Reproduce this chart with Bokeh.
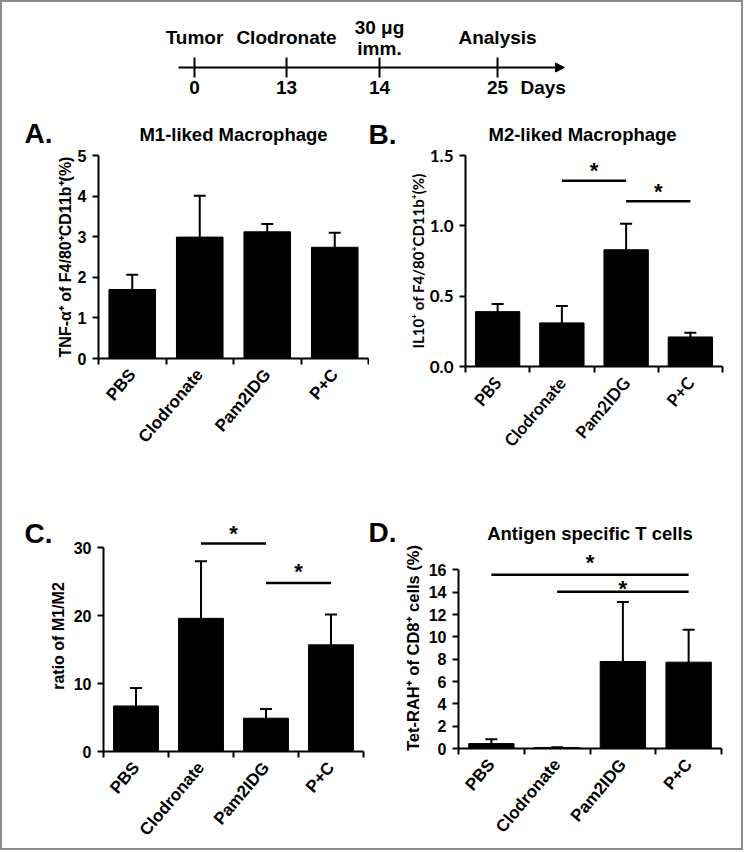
import math
from bokeh.plotting import figure
from bokeh.models import (Range1d, FixedTicker, Whisker, TeeHead, ColumnDataSource,
                          Label, Arrow, NormalHead, NumeralTickFormatter)
from bokeh.layouts import column, row
from bokeh.core.properties import value
from bokeh.embed import file_html
from bokeh.resources import INLINE

# ---------------- data ----------------
groups = ["PBS", "Clodronate", "Pam2IDG", "P+C"]

m1_mean = [1.70, 2.99, 3.12, 2.74]
m1_err = [0.36, 1.02, 0.19, 0.36]

m2_mean = [0.39, 0.31, 0.83, 0.21]
m2_err = [0.055, 0.12, 0.185, 0.03]

ratio_mean = [6.7, 19.6, 4.9, 15.7]
ratio_err = [2.65, 8.4, 1.35, 4.45]

tet_mean = [0.44, 0.08, 7.79, 7.73]
tet_err = [0.38, 0.04, 5.34, 2.9]

# significance comparisons: (from group, to group, bar height)
m2_sig = [("Clodronate", "Pam2IDG", 1.32), ("Pam2IDG", "P+C", 1.175)]
ratio_sig = [("Clodronate", "Pam2IDG", 30.6), ("Pam2IDG", "P+C", 24.8)]
tet_sig = [("PBS", "P+C", 15.55), ("Clodronate", "P+C", 14.03)]

m1_ticks = [0, 1, 2, 3, 4, 5]
m2_ticks = [0, 0.5, 1.0, 1.5]
ratio_ticks = [0, 10, 20, 30]
tet_ticks = [0, 2, 4, 6, 8, 10, 12, 14, 16]

tl_days = ["0", "13", "14", "25"]
tl_events = ["Tumor", "Clodronate", "30 \u03bcg\nimm.", "Analysis"]

# ---------------- layout / style constants ----------------
ARIAL = "Liberation Sans"
CALIBRI = "Lato"
TL_SLOTS = [0.0, 0.995, 2.0, 3.276]   # schematic (non-linear) timeline positions
TL_PX = 92.5                           # pixels per slot
TL_X0 = 192                            # fig-x of slot 0
CAT_ANGLE = 0.87                       # rotation of category labels (rad)


def style_text(prefix, model, font, size):
    setattr(model, prefix + "_font", font)
    setattr(model, prefix + "_font_style", "bold")
    setattr(model, prefix + "_font_size", size)


def panel(width, height, borders, y_range, ticks, means, errs, ylabel, title,
          letter, letter_xy, sig=None, star_dy=None, font=ARIAL, fmt=None,
          title_offset=None, title_standoff=10, tick_size="16px", label_size="16px",
          cat_size="17px", label_standoff=4):
    left, right, top, bottom = borders
    n = len(groups)
    p = figure(width=width, height=height, x_range=Range1d(0, n),
               y_range=Range1d(*y_range), output_backend="svg",
               toolbar_location=None, min_border_left=left,
               min_border_right=right, min_border_top=top,
               min_border_bottom=bottom, frame_align=False)
    p.grid.visible = False
    p.outline_line_color = None

    centers = [i + 0.5 for i in range(n)]
    src = ColumnDataSource(dict(x=centers, mean=means,
                                upper=[m + e for m, e in zip(means, errs)]))
    p.vbar(x="x", top="mean", bottom=0, width=0.69, source=src, fill_color="black",
           line_color="black")
    wh = Whisker(source=src, base="x", lower="mean", upper="upper",
                 dimension="height", line_width=2, line_color="black",
                 lower_head=None,
                 upper_head=TeeHead(size=12, line_width=2, line_color="black"))
    p.add_layout(wh)

    if sig:
        idx = {g: i + 0.5 for i, g in enumerate(groups)}
        x0 = [idx[a] for a, b, h in sig]
        x1 = [idx[b] for a, b, h in sig]
        hs = [h for a, b, h in sig]
        p.segment(x0=x0, y0=hs, x1=x1, y1=hs, line_width=2.5, line_color="black")
        p.text(x=[(a + b) / 2 for a, b in zip(x0, x1)], y=hs, text=["*"] * len(hs),
               y_offset=star_dy, text_align="center", text_baseline="alphabetic",
               text_font=value(ARIAL), text_font_style="bold",
               text_font_size="22px", text_color="black")

    # x axis: boundary ticks as minor ticks, labels at category centres
    xa = p.xaxis[0]
    xa.ticker = FixedTicker(ticks=centers, minor_ticks=list(range(n + 1)))
    xa.major_label_overrides = {c: g for c, g in zip(centers, groups)}
    xa.major_tick_line_color = None
    xa.major_tick_out = 6
    xa.major_tick_in = 0
    xa.minor_tick_out = 6
    xa.minor_tick_in = 0
    xa.minor_tick_line_width = 2
    xa.minor_tick_line_color = "black"
    xa.axis_line_width = 2
    xa.axis_line_color = "black"
    xa.major_label_orientation = CAT_ANGLE
    xa.major_label_standoff = 7
    style_text("major_label_text", xa, font, cat_size)
    xa.major_label_text_color = "black"

    ya = p.yaxis[0]
    ya.ticker = FixedTicker(ticks=ticks, minor_ticks=[])
    ya.bounds = (0, ticks[-1])
    ya.minor_tick_line_color = None
    ya.major_tick_out = 6
    ya.major_tick_in = 0
    ya.major_tick_line_width = 2
    ya.major_tick_line_color = "black"
    ya.axis_line_width = 2
    ya.axis_line_color = "black"
    ya.major_label_standoff = 6
    style_text("major_label_text", ya, font, tick_size)
    ya.major_label_text_color = "black"
    if fmt is not None:
        ya.formatter = fmt
    ya.axis_label = ylabel
    style_text("axis_label_text", ya, font, label_size)
    ya.axis_label_text_color = "black"
    ya.axis_label_standoff = label_standoff

    if title:
        p.title.text = title
        if title_offset is None:
            p.title.align = "center"
        else:
            p.title.align = "left"
            p.title.offset = title_offset
        p.title.standoff = title_standoff
        style_text("text", p.title, ARIAL, "18.5px")
        p.title.text_color = "black"

    lx, ly = letter_xy
    p.add_layout(Label(x=lx, y=ly, text=letter,
                       text_font=ARIAL, text_font_style="bold", text_font_size="28px",
                       text_baseline="middle", text_align="left",
                       text_color="black"), "left")
    return p


# ---------------- timeline ----------------
TW, TH = 739, 108
tl = figure(width=TW, height=TH, x_range=Range1d(-TL_X0 / TL_PX, (TW - TL_X0) / TL_PX),
            y_range=Range1d(TH, 0), x_axis_type=None, y_axis_type=None,
            toolbar_location=None, output_backend="svg", min_border=0,
            frame_align=False)
tl.outline_line_color = None
tl.add_layout(Arrow(x_start=-0.173, y_start=65, x_end=4.0, y_end=65, line_width=2,
                    line_color="black",
                    end=NormalHead(size=9, fill_color="black", line_color="black")))
tl.segment(x0=TL_SLOTS, y0=[55] * 4, x1=TL_SLOTS, y1=[75] * 4, line_width=2,
           line_color="black")
tl.text(x=TL_SLOTS, y=[35] * 4, text=tl_events, text_align="center",
        text_baseline="middle", text_font=value(ARIAL), text_font_style="bold",
        text_font_size="19px", text_color="black", text_line_height=1.0)
tl.text(x=TL_SLOTS, y=[85] * 4, text=tl_days, text_align="center",
        text_baseline="middle", text_font=value(ARIAL), text_font_style="bold",
        text_font_size="19px", text_color="black")
tl.text(x=[3.77], y=[85], text=["Days"], text_align="center",
        text_baseline="middle", text_font=value(ARIAL), text_font_style="bold",
        text_font_size="19px", text_color="black")

# ---------------- panels ----------------
pa = panel(367, 350, (96, 1, 44, 102), (0, 5), m1_ticks, m1_mean, m1_err,
           "TNF-\u03b1\u207a of F4/80\u207aCD11b\u207a(%)", "M1-liked Macrophage",
           "A.", (-1.096, 5.55), title_standoff=22, label_standoff=1)
pb = panel(372, 350, (96, 19, 43, 94), (0, 1.5), m2_ticks, m2_mean, m2_err,
           "IL10\u207a of F4/80\u207aCD11b\u207a(%)", "M2-liked Macrophage",
           "B.", (-1.51, 1.648), sig=m2_sig, star_dy=[-10, -10], font=CALIBRI,
           fmt=NumeralTickFormatter(format="0.0"), title_offset=23, title_standoff=22,
           tick_size="17px", label_size="15px", cat_size="17px", label_standoff=0)
pc = panel(367, 388, (101, 6, 60, 97), (0, 34), ratio_ticks, ratio_mean, ratio_err,
           "ratio of M1/M2", "", "C.", (-1.215, 32.13), sig=ratio_sig,
           star_dy=[-10, -12])
pd = panel(372, 388, (89, 20, 87, 100), (0, 18), tet_ticks, tet_mean, tet_err,
           "Tet-RAH\u207a of CD8\u207a cells (%)", "Antigen specific T cells",
           "D.", (-1.369, 19.34), sig=tet_sig, star_dy=[-12, -3], title_offset=None,
           title_standoff=8, label_size="16.5px")

layout = column(tl, row(pa, pb), row(pc, pd),
                styles={"border": "2px solid #8c8c8c"})

open("out.html", "w").write(file_html(layout, INLINE))
